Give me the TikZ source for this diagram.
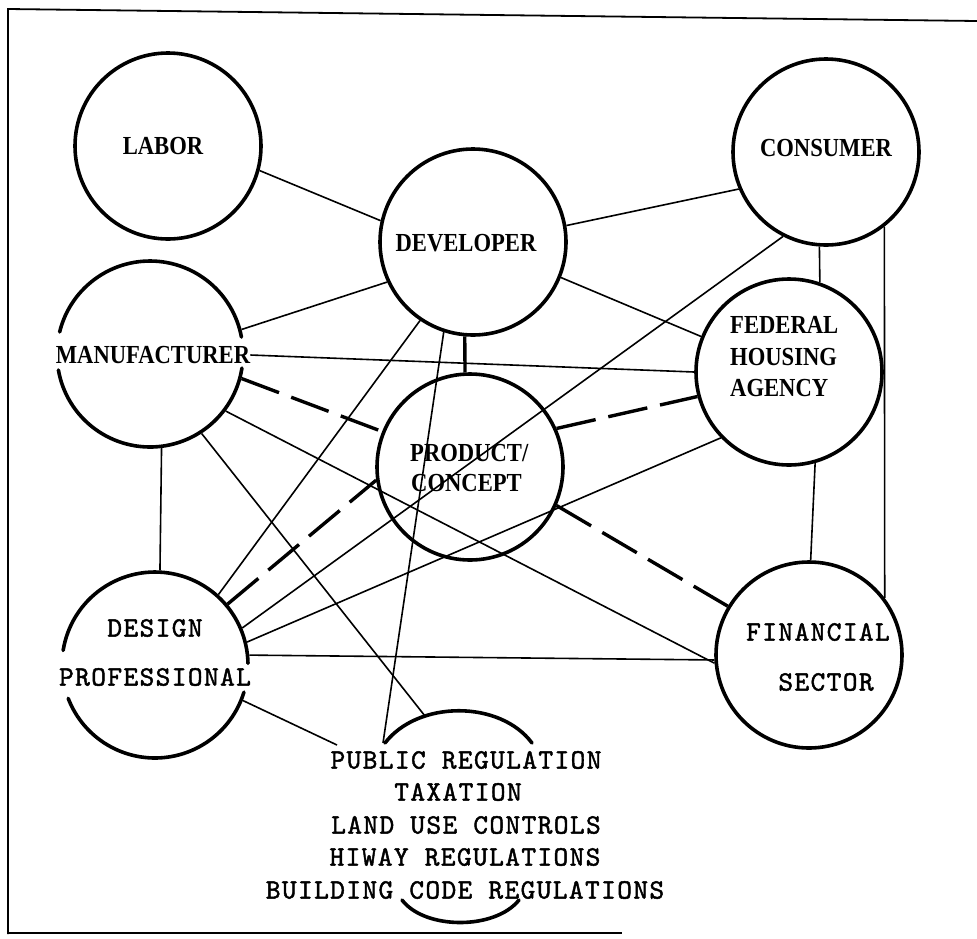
\documentclass[tikz,border=0pt]{standalone}
\usepackage{fontspec}
\newfontfamily\labfont{Liberation Serif}[FakeStretch=0.87]
\newfontfamily\twfont{lmmono10-regular.otf}[LetterSpace=5,FakeBold=1.6]
\tikzset{
  circ/.style={circle, draw, line width=3.6pt, minimum size=186pt, inner sep=0pt},
  hole/.style={circle, minimum size=186pt, inner sep=0pt, line width=3.6pt},
  conn/.style={line width=1.6pt},
  dconn/.style={line width=3.4pt, dash pattern=on 40pt off 13pt},
  thickconn/.style={line width=3.4pt},
  lab/.style={inner sep=0pt, font=\labfont\bfseries\fontsize{26}{30}\selectfont},
  tw/.style={inner sep=0pt, font=\twfont\fontsize{28}{32}\selectfont},
  arcline/.style={line width=3.6pt, line cap=round},
  framel/.style={line width=1.8pt},
}
\begin{document}
\begin{tikzpicture}[x=1pt,y=-1pt]
\useasboundingbox (0,0) rectangle (977,938);
% frame
\draw[framel] (977,21) -- (8,9) -- (8,934);
\draw[framel] (8,933) -- (622,933);
% circles
\node[circ] (L) at (168,146) {};
\node[circ] (D) at (473,242) {};
\node[circ] (C) at (826,152) {};
\node[circ] (F) at (789,372) {};
\node[circ] (S) at (809,655) {};
\node[circ] (P) at (470,467) {};
\node[hole] (M) at (150,354) {};
\node[hole] (G) at (155,665) {};
% broken circles
\draw[arcline] plot[domain=8.7:170.1, samples=60] ({150+93*cos(\x)},{354+93*sin(\x)});
\draw[arcline] plot[domain=193.7:349.5, samples=60] ({150+93*cos(\x)},{354+93*sin(\x)});
\draw[arcline] plot[domain=17:159, samples=60] ({155+93*cos(\x)},{665+93*sin(\x)});
\draw[arcline] plot[domain=189:359, samples=60] ({155+93*cos(\x)},{665+93*sin(\x)});
% public regulation arcs
\draw[arcline] (385,743) .. controls (418,700) and (500,700) .. (532,743);
\draw[arcline] (402,900) .. controls (425,930) and (495,930) .. (519,900);
% labels
\node[lab] (tL) at (163,146) {LABOR};
\node[lab] (tD) at (466,243) {DEVELOPER};
\node[lab] (tC) at (826,148) {CONSUMER};
\node[lab] (tM) at (153,355) {MANUFACTURER};
\node[lab, anchor=west] (tF1) at (730,325) {FEDERAL};
\node[lab, anchor=west] (tF2) at (730,357) {HOUSING};
\node[lab, anchor=west] (tF3) at (730,388) {AGENCY};
\node[lab, anchor=west] (tP1) at (410,453) {PRODUCT/};
\node[lab, anchor=west] (tP2) at (411,483) {CONCEPT};
\node[tw] (tG1) at (155,628) {DESIGN};
\node[tw] (tG2) at (155,677) {PROFESSIONAL};
\node[tw] (tS1) at (818,632) {FINANCIAL};
\node[tw] (tS2) at (826,682) {SECTOR};
\node[tw] (r1) at (466,760) {PUBLIC REGULATION};
\node[tw] (r2) at (458,792) {TAXATION};
\node[tw] (r3) at (466,825) {LAND USE CONTROLS};
\node[tw] (r4) at (465,857) {HIWAY REGULATIONS};
\node[tw] (r5) at (465,890) {BUILDING CODE REGULATIONS};
% free ends at the public regulation group
\coordinate (prL) at (383,743);
\coordinate (prM) at (425,716);
\coordinate (prG) at (337,745);
% connectors
\draw[conn] (L.-15) -- (D.167);
\draw[conn] (D.10) -- (C.203);
\draw[conn] (D.205) -- (M.15);
\draw[conn] (D.-22) -- (F.158);
\draw[thickconn] (D.-95) -- (P.93);
\draw[conn] (D.236) -- (G.48);
\draw[conn] (D.252) -- (prL);
\draw[conn] (tM.east) -- (F.180);
\draw[dconn] (M.-15) -- (P.158);
\draw[conn] (M.-37) -- (S.185);
\draw[conn] (M.-83) -- (G.87);
\draw[conn] (M.-57) -- (prM);
\draw[dconn] (P.24) -- (F.195);
\draw[dconn] (P.-24) -- (S.149);
\draw[dconn] (G.40) -- (P.188);
\draw[conn] (C.243) -- (G.23);
\draw[conn] (F.224) -- (G.14);
\draw[conn] (G.6) -- (S.183);
\draw[conn] (G.-22) -- (prG);
\draw[conn] (C.-94) -- (F.71);
\draw[conn] (C.-52) -- (S.37);
\draw[conn] (F.-74) -- (S.89);
\end{tikzpicture}
\end{document}
